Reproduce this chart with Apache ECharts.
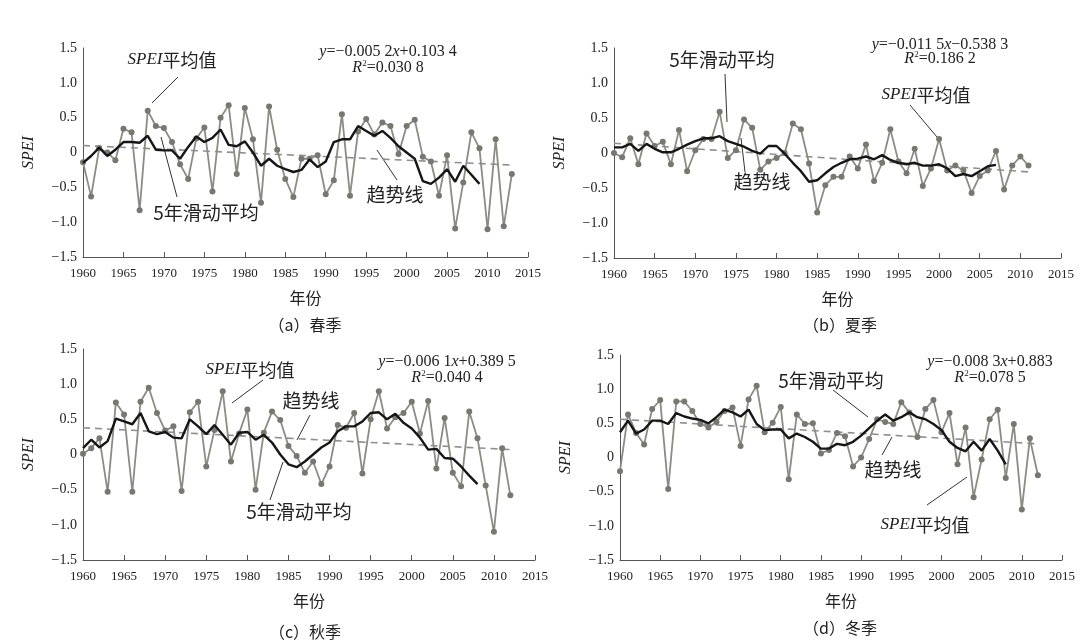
<!DOCTYPE html>
<html><head><meta charset="utf-8">
<script src="https://cdn.jsdelivr.net/npm/echarts@6/dist/echarts.min.js"></script>
<style>html,body{margin:0;padding:0;background:#fff}#c{width:1083px;height:643px}</style>
</head><body><div id="c"></div>
<script>
// ---------------- data ----------------
const startYear = 1960;
const xMin = 1960, xMax = 2015, xStep = 5;
const yMin = -1.5, yMax = 1.5, yStep = 0.5;

const springSPEI = [-0.14,-0.63,0.06,0.00,-0.11,0.34,0.29,-0.83,0.60,0.38,
  0.35,0.15,-0.17,-0.38,0.20,0.36,-0.56,0.50,0.68,-0.31,
  0.64,0.19,-0.72,0.66,0.04,-0.38,-0.64,-0.09,-0.09,-0.04,
  -0.60,-0.40,0.55,-0.62,0.30,0.48,0.26,0.43,0.38,-0.02,
  0.38,0.47,-0.06,-0.13,-0.62,-0.04,-1.09,-0.43,0.29,0.06,
  -1.10,0.19,-1.06,-0.31];
const springMA = [-0.15,-0.05,0.07,-0.05,0.04,0.15,0.15,0.14,0.24,0.04,
  0.03,0.03,-0.09,0.08,0.23,0.15,0.21,0.33,0.11,0.09,
  0.16,0.00,-0.19,-0.09,-0.19,-0.24,-0.28,-0.25,-0.10,-0.21,
  -0.13,0.15,0.19,0.19,0.38,0.31,0.24,0.31,0.21,0.09,
  0.00,-0.09,-0.41,-0.45,-0.36,-0.24,-0.42,-0.19,-0.32,-0.45];
const springTrend = [[1960,0.10],[2013,-0.18]];

const summerSPEI = [0.00,-0.06,0.21,-0.16,0.28,0.10,0.16,-0.16,0.33,-0.26,
  0.04,0.20,0.20,0.59,-0.07,0.04,0.48,0.36,-0.24,-0.12,
  -0.07,0.00,0.42,0.34,-0.15,-0.85,-0.46,-0.34,-0.34,-0.05,
  -0.22,0.12,-0.40,-0.14,0.34,-0.12,-0.29,0.06,-0.47,-0.22,
  0.20,-0.25,-0.18,-0.25,-0.57,-0.33,-0.25,0.03,-0.52,-0.18,
  -0.05,-0.18];
const summerMA = [0.08,0.08,0.13,0.03,0.13,0.06,0.01,0.01,0.06,0.12,
  0.17,0.21,0.21,0.24,0.17,0.13,0.09,0.03,-0.01,0.10,
  0.10,-0.01,-0.14,-0.26,-0.41,-0.39,-0.29,-0.20,-0.14,-0.09,
  -0.08,-0.05,-0.09,-0.03,-0.10,-0.14,-0.16,-0.14,-0.18,-0.18,
  -0.16,-0.22,-0.33,-0.30,-0.33,-0.26,-0.19,-0.17];
const summerTrend = [[1960,0.14],[2011,-0.27]];

const autumnSPEI = [0.01,0.09,0.23,-0.53,0.74,0.57,-0.53,0.75,0.95,0.59,
  0.34,0.40,-0.52,0.60,0.75,-0.17,0.35,0.90,-0.10,0.30,
  0.64,-0.50,0.31,0.61,0.49,0.12,-0.02,-0.26,-0.10,-0.42,
  -0.17,0.42,0.38,0.59,-0.27,0.50,0.90,0.37,0.53,0.59,
  0.75,0.30,0.76,-0.20,0.52,-0.26,-0.45,0.61,0.23,-0.44,
  -1.10,0.09,-0.58];
const autumnMA = [0.09,0.21,0.10,0.19,0.51,0.47,0.43,0.59,0.33,0.29,
  0.32,0.24,0.23,0.50,0.40,0.29,0.42,0.28,0.14,0.31,
  0.32,0.21,0.28,0.17,0.00,-0.14,-0.18,-0.10,0.00,0.10,
  0.17,0.33,0.40,0.40,0.47,0.59,0.60,0.50,0.58,0.45,
  0.37,0.24,0.07,0.08,-0.05,-0.06,-0.17,-0.30,-0.42];
const autumnTrend = [[1960,0.38],[2012,0.07]];

const winterSPEI = [-0.20,0.63,0.36,0.19,0.71,0.84,-0.46,0.82,0.82,0.68,
  0.49,0.44,0.52,0.68,0.73,0.17,0.85,1.05,0.37,0.51,
  0.74,-0.32,0.63,0.49,0.50,0.06,0.11,0.36,0.31,-0.13,
  0.00,0.27,0.56,0.52,0.49,0.81,0.66,0.30,0.71,0.84,
  0.37,0.65,-0.10,0.44,-0.58,-0.03,0.56,0.70,-0.30,0.49,
  -0.76,0.28,-0.26];
const winterMA = [0.37,0.54,0.35,0.41,0.54,0.54,0.49,0.65,0.60,0.57,
  0.55,0.50,0.59,0.70,0.66,0.60,0.70,0.49,0.40,0.41,
  0.41,0.28,0.35,0.30,0.23,0.13,0.13,0.20,0.18,0.23,
  0.32,0.43,0.54,0.63,0.54,0.59,0.66,0.59,0.56,0.49,
  0.40,0.23,0.14,0.09,0.23,0.10,0.27,0.10,-0.10];
const winterTrend = [[1960,0.56],[2012,0.20]];

const panelCaptions = ['（a）春季','（b）夏季','（c）秋季','（d）冬季'];
const equations = [
  ['{i|y}=−0.005 2{i|x}+0.103 4','{i|R}{s|2}=0.030 8'],
  ['{i|y}=−0.011 5{i|x}−0.538 3','{i|R}{s|2}=0.186 2'],
  ['{i|y}=−0.006 1{i|x}+0.389 5','{i|R}{s|2}=0.040 4'],
  ['{i|y}=−0.008 3{i|x}+0.883','{i|R}{s|2}=0.078 5']
];
const labelSPEI = '{i|SPEI}{n|平均值}';
const labelMA = '5年滑动平均';
const labelTrend = '趋势线';
const xName = '年份';
const yName = 'SPEI';

// ---------------- layout / style ----------------
const panels = [
  {spei: springSPEI, ma: springMA, trend: springTrend, grid:{left:83, top:48, width:445, height:209}},
  {spei: summerSPEI, ma: summerMA, trend: summerTrend, grid:{left:614, top:48, width:447, height:210}},
  {spei: autumnSPEI, ma: autumnMA, trend: autumnTrend, grid:{left:83, top:349, width:452, height:211}},
  {spei: winterSPEI, ma: winterMA, trend: winterTrend, grid:{left:620, top:355, width:442, height:205}}
];
const toPairs = arr => arr.map((v,i) => [startYear + i, v]);
const serif = 'Liberation Serif, Times New Roman, serif';
const cjk = 'Noto Sans CJK SC';
const txt = '#222';
const axisCol = '#555';

const option = {
  backgroundColor: '#fff',
  animation: false,
  grid: panels.map(p => Object.assign({containLabel:false}, p.grid)),
  xAxis: panels.map((p,i) => ({
    type:'value', gridIndex:i, min:xMin, max:xMax, interval:xStep,
    axisLine:{show:true, onZero:false, lineStyle:{color:axisCol, width:1}},
    axisTick:{show:true, inside:true, length:5, lineStyle:{color:axisCol}},
    axisLabel:{color:txt, fontFamily:serif, fontSize:13, margin:10, formatter: v => String(v)},
    splitLine:{show:false},
    name:xName, nameLocation:'middle', nameGap:33,
    nameTextStyle:{fontFamily:cjk, fontSize:16, color:txt}
  })),
  yAxis: panels.map((p,i) => ({
    type:'value', gridIndex:i, min:yMin, max:yMax, interval:yStep,
    axisLine:{show:true, lineStyle:{color:axisCol, width:1}},
    axisTick:{show:false},
    axisLabel:{color:txt, fontFamily:serif, fontSize:14, margin:6,
      formatter: v => v === 0 ? '0' : (v < 0 ? '−' : '') + Math.abs(v).toFixed(1)},
    splitLine:{show:false},
    name:yName, nameLocation:'middle', nameGap:46, nameRotate:90,
    nameTextStyle:{fontFamily:serif, fontStyle:'italic', fontSize:16, color:txt}
  })),
  series: [].concat(...panels.map((p,i) => [
    {type:'line', xAxisIndex:i, yAxisIndex:i, data:p.trend, symbol:'none', silent:true,
      lineStyle:{color:'#8f8f8f', width:1.6, type:[7,5]}, z:1},
    {type:'line', xAxisIndex:i, yAxisIndex:i, data:toPairs(p.spei), symbol:'circle', symbolSize:6,
      itemStyle:{color:'#77786f'}, lineStyle:{color:'#8b8c83', width:1.8}, z:2},
    {type:'line', xAxisIndex:i, yAxisIndex:i, data:toPairs(p.ma), symbol:'none',
      lineStyle:{color:'#161616', width:2.4}, z:3}
  ])),
  graphic: []
};

const richT = {
  i:{fontFamily:serif, fontStyle:'italic', fontSize:17, fill:txt},
  n:{fontFamily:cjk, fontSize:18, fill:txt}
};
function text(x, y, s, font, size, rich) {
  return {type:'text', x, y, silent:true, style:{text:s, fill:txt, align:'center', verticalAlign:'middle',
    fontFamily:font, fontSize:size, rich: rich}};
}
function seg(x1,y1,x2,y2){
  return {type:'line', silent:true, shape:{x1,y1,x2,y2}, style:{stroke:'#333', lineWidth:1}};
}
const eqRich = {
  i:{fontFamily:serif, fontStyle:'italic', fontSize:16, fill:txt},
  s:{fontFamily:serif, fontSize:9, fill:txt, verticalAlign:'top', padding:[0,0,8,0]}
};
const G = option.graphic;
// panel a
G.push(text(172,60,labelSPEI,cjk,18,richT), seg(178,77,152,103));
G.push(text(206,213,labelMA,cjk,19), seg(177,197,161,137));
G.push(text(395,195,labelTrend,cjk,19), seg(397,180,377,150));
// panel b
G.push(text(722,60,labelMA,cjk,19), seg(725,74,727,122));
G.push(text(762,182,labelTrend,cjk,19), seg(745,172,741,138));
G.push(text(926,95,labelSPEI,cjk,18,richT), seg(910,105,937,137));
// panel c
G.push(text(250,370,labelSPEI,cjk,18,richT), seg(263,380,232,403));
G.push(text(311,401,labelTrend,cjk,19), seg(310,415,297,440));
G.push(text(299,512,labelMA,cjk,19), seg(270,500,283,462));
// panel d
G.push(text(831,381,labelMA,cjk,19), seg(833,390,868,417));
G.push(text(893,470,labelTrend,cjk,19), seg(882,455,892,437));
G.push(text(925,525,labelSPEI,cjk,18,richT), seg(927,505,967,477));
// equations
const eqPos = [[388,52,68],[940,45,59],[447,362,378],[990,362,378]];
equations.forEach((e,k) => {
  G.push(text(eqPos[k][0], eqPos[k][1], e[0], serif, 16, eqRich));
  G.push(text(eqPos[k][0], eqPos[k][2], e[1], serif, 16, eqRich));
});
// captions
const capPos = [[305,325],[840,325],[305,632],[840,628]];
panelCaptions.forEach((c,k) => G.push(text(capPos[k][0], capPos[k][1], c, cjk, 16)));

const chart = echarts.init(document.getElementById('c'), null, {renderer:'canvas'});
chart.setOption(option);
</script></body></html>
